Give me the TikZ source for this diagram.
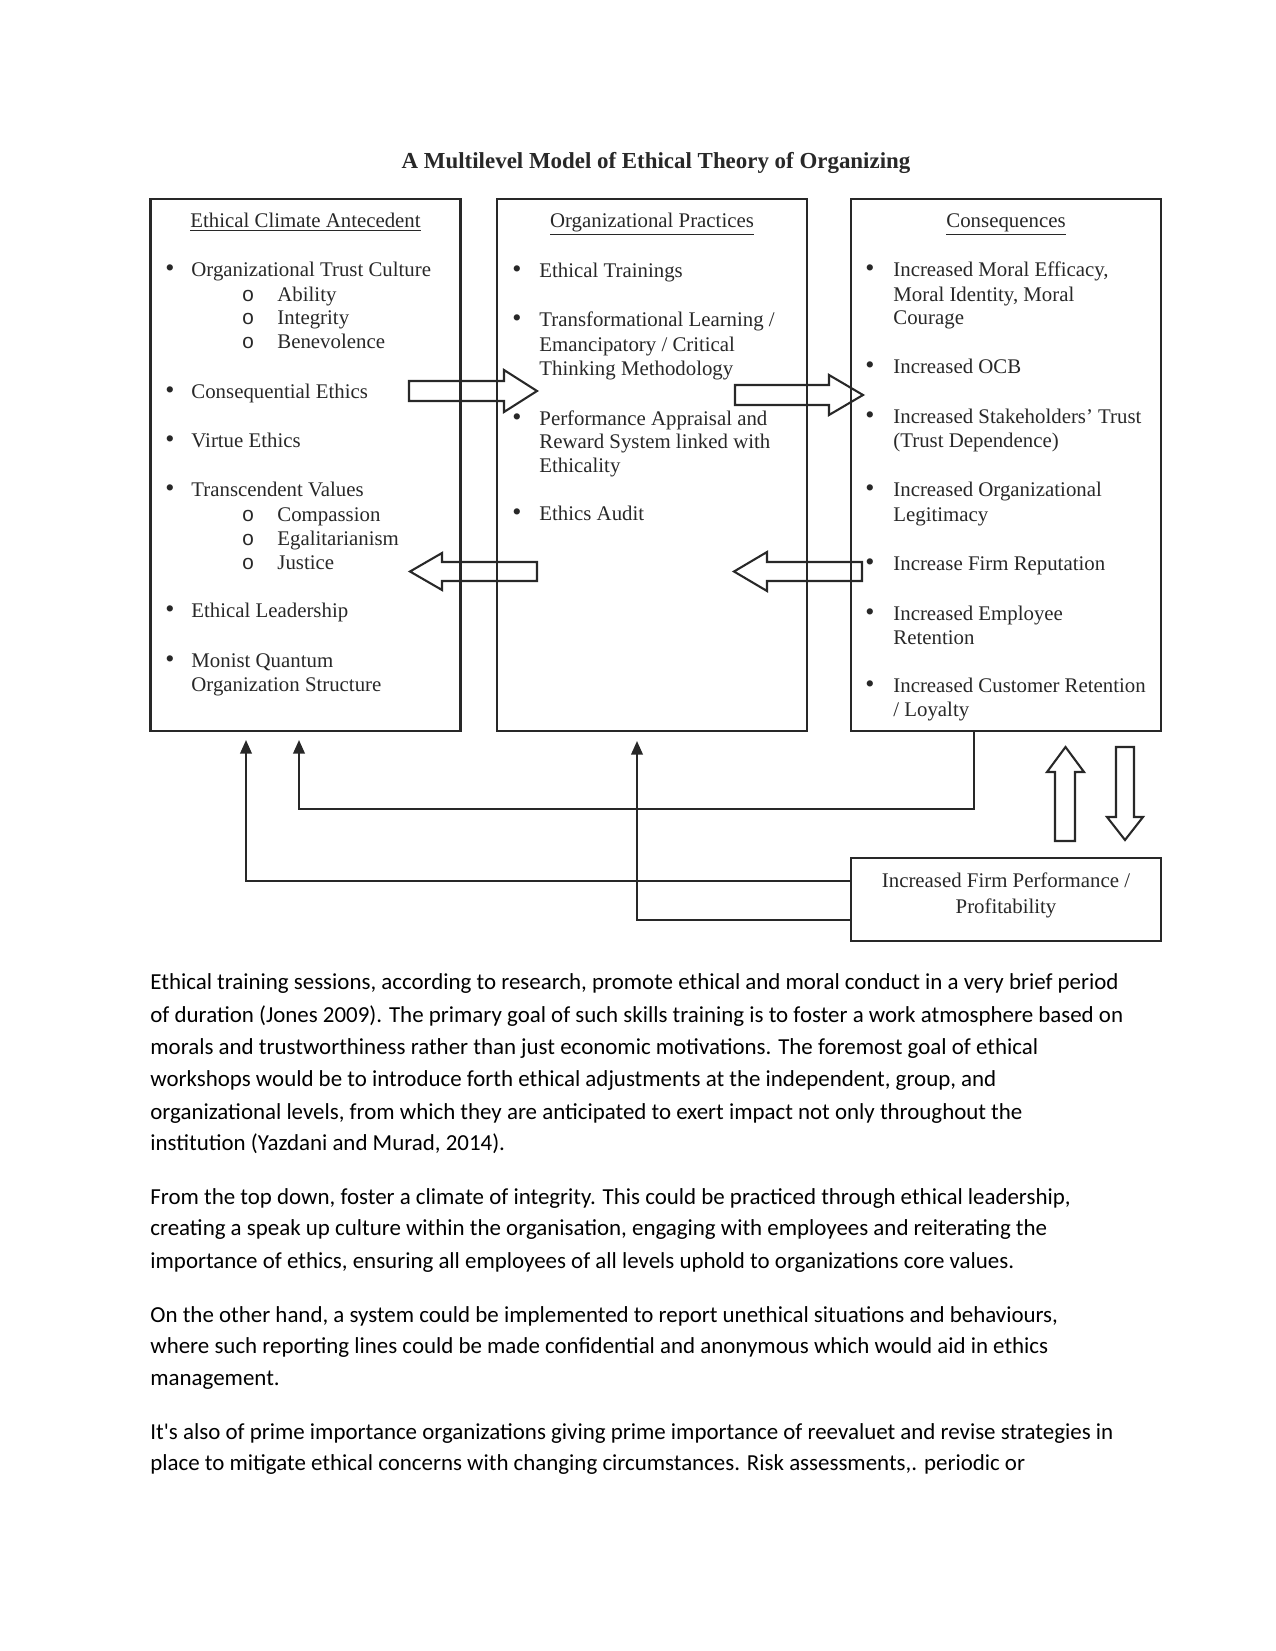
\documentclass[tikz,border=0pt]{standalone}
\usepackage{fontspec}
\setmainfont{Liberation Serif}
\newfontfamily\bodyfont{Carlito}
\newfontfamily\monofnt{Liberation Mono}
\usetikzlibrary{arrows.meta}
\definecolor{ink}{RGB}{40,40,40}
\newcommand\dl[4]{\node[#1] (#2) at (#3) {#4};}
\begin{document}
\begin{tikzpicture}[x=0.48pt,y=-0.48pt,
  box/.style={draw=ink,line width=1.2pt,inner sep=0pt,minimum width=148.8pt},
  dt/.style={anchor=base west,inner sep=0pt,text=ink,font=\fontsize{10}{12}\selectfont},
  bl/.style={anchor=base,inner sep=0pt,text=ink,font=\fontsize{12.5}{12}\selectfont},
  sb/.style={anchor=base,inner sep=0pt,text=ink,font=\monofnt\fontsize{10}{12}\selectfont},
  hd/.style={anchor=base,inner sep=0pt,text=ink,font=\fontsize{10}{12}\selectfont},
  bt/.style={anchor=base west,inner sep=0pt,text=black,font=\bodyfont\fontsize{11}{13}\selectfont},
  hollow/.style={draw=ink,line width=1pt,line join=miter},
  conn/.style={draw=ink,line width=1pt,-{Triangle[length=6.5pt,width=5.5pt]}}]
\useasboundingbox (0,0) rectangle (1275,1651);
\fill[white] (0,0) rectangle (1275,1651);

% title
\node[anchor=base,inner sep=0pt,text=ink,font=\bfseries\fontsize{11}{13}\selectfont] (title) at (656,169) {A Multilevel Model of Ethical Theory of Organizing};

% boxes
\node[box,minimum height=255.36pt] (b1) at (305.5,465) {};
\node[box,minimum height=255.36pt] (b2) at (652,465) {};
\node[box,minimum height=255.36pt] (b3) at (1006,465) {};
\node[box,minimum height=39.84pt] (b4) at (1006,899.5) {};

% hollow block arrows
\draw[hollow] (409,381) -- (504,381) -- (504,370) -- (537,391) -- (504,412) -- (504,401) -- (409,401) -- cycle;
\draw[hollow] (537,562) -- (442,562) -- (442,553) -- (410,571.5) -- (442,590) -- (442,581) -- (537,581) -- cycle;
\draw[hollow] (735,385) -- (829,385) -- (829,375) -- (863,395) -- (829,415) -- (829,405) -- (735,405) -- cycle;
\draw[hollow] (862,562) -- (767,562) -- (767,552) -- (734,571.5) -- (767,591) -- (767,581) -- (862,581) -- cycle;
\draw[hollow] (1055,841) -- (1055,772) -- (1047,772) -- (1065.5,747) -- (1084,772) -- (1075,772) -- (1075,841) -- cycle;
\draw[hollow] (1116,747) -- (1134,747) -- (1134,817) -- (1143,817) -- (1125,840) -- (1107,817) -- (1116,817) -- cycle;

% feedback connectors
\coordinate (a1) at (299,740);
\coordinate (a2) at (246,740);
\coordinate (a3) at (637,741);
\coordinate (k1) at (974,809);
\coordinate (h2) at (0,881);
\coordinate (h3) at (0,920);
\draw[conn] (b3.south -| k1) -- (k1) -| (a1);
\draw[conn] (b4.west |- h2) -| (a2);
\draw[conn] (b4.west |- h3) -| (a3);

\begin{scope}[yshift=-1pt]
% headings
\dl{hd}{hA}{305.5,225}{\underline{Ethical Climate Antecedent}}
\dl{hd}{hB}{652,225}{\underline{Organizational Practices}}
\dl{hd}{hC}{1006,225}{\underline{Consequences}}

% box 1
\dl{bl}{p1}{170,274}{•}
\dl{bl}{p2}{170,396}{•}
\dl{bl}{p3}{170,445}{•}
\dl{bl}{p4}{170,494}{•}
\dl{bl}{p5}{170,615.6}{•}
\dl{bl}{p6}{170,665}{•}
\dl{dt}{t1}{191,274}{Organizational Trust Culture}
\dl{dt}{t2}{191,396}{Consequential Ethics}
\dl{dt}{t3}{191,445}{Virtue Ethics}
\dl{dt}{t4}{191,494}{Transcendent Values}
\dl{dt}{t5}{191,615.6}{Ethical Leadership}
\dl{dt}{t6}{191,665}{Monist Quantum}
\dl{dt}{t7}{191,689}{Organization Structure}
\dl{sb}{o1}{248,299}{o}
\dl{sb}{o2}{248,322}{o}
\dl{sb}{o3}{248,346.5}{o}
\dl{sb}{o4}{248,519}{o}
\dl{sb}{o5}{248,543}{o}
\dl{sb}{o6}{248,567}{o}
\dl{dt}{s1}{277,299}{Ability}
\dl{dt}{s2}{277,322}{Integrity}
\dl{dt}{s3}{277,346.5}{Benevolence}
\dl{dt}{s4}{277,519}{Compassion}
\dl{dt}{s5}{277,543}{Egalitarianism}
\dl{dt}{s6}{277,567}{Justice}

% box 2
\dl{bl}{q1}{517,275}{•}
\dl{bl}{q2}{517,324}{•}
\dl{bl}{q3}{517,423}{•}
\dl{bl}{q4}{517,518}{•}
\dl{dt}{u1}{539,275}{Ethical Trainings}
\dl{dt}{u2}{539,324}{Transformational Learning /}
\dl{dt}{u3}{539,349}{Emancipatory / Critical}
\dl{dt}{u4}{539,373}{Thinking Methodology}
\dl{dt}{u5}{539,423}{Performance Appraisal and}
\dl{dt}{u6}{539,446}{Reward System linked with}
\dl{dt}{u7}{539,470}{Ethicality}
\dl{dt}{u8}{539,518}{Ethics Audit}

% box 3
\dl{bl}{r1}{870,274.5}{•}
\dl{bl}{r2}{870,371.5}{•}
\dl{bl}{r3}{870,421.5}{•}
\dl{bl}{r4}{870,494}{•}
\dl{bl}{r5}{870,568.5}{•}
\dl{bl}{r6}{870,618}{•}
\dl{bl}{r7}{870,690.5}{•}
\dl{dt}{v1}{893,274.5}{Increased Moral Efficacy,}
\dl{dt}{v2}{893,299}{Moral Identity, Moral}
\dl{dt}{v3}{893,322.5}{Courage}
\dl{dt}{v4}{893,371.5}{Increased OCB}
\dl{dt}{v5}{893,421.5}{Increased Stakeholders’ Trust}
\dl{dt}{v6}{893,445.5}{(Trust Dependence)}
\dl{dt}{v7}{893,494}{Increased Organizational}
\dl{dt}{v8}{893,519}{Legitimacy}
\dl{dt}{v9}{893,568.5}{Increase Firm Reputation}
\dl{dt}{v10}{893,618}{Increased Employee}
\dl{dt}{v11}{893,642}{Retention}
\dl{dt}{v12}{893,690.5}{Increased Customer Retention}
\dl{dt}{v13}{893,714.5}{/ Loyalty}

% box 4
\dl{hd}{w1}{1006,885}{Increased Firm Performance /}
\dl{hd}{w2}{1006,911.5}{Profitability}

% body text
\dl{bt}{x1}{150,987}{Ethical training sessions, according to research, promote ethical and moral conduct in a very brief period}
\dl{bt}{x2}{150,1020}{of duration (Jones 2009). The primary goal of such skills training is to foster a work atmosphere based on}
\dl{bt}{x3}{150,1052.5}{morals and trustworthiness rather than just economic motivations. The foremost goal of ethical}
\dl{bt}{x4}{150,1084}{workshops would be to introduce forth ethical adjustments at the independent, group, and}
\dl{bt}{x5}{150,1117}{organizational levels, from which they are anticipated to exert impact not only throughout the}
\dl{bt}{x6}{150,1148}{institution (Yazdani and Murad, 2014).}
\dl{bt}{y1}{150,1202}{From the top down, foster a climate of integrity. This could be practiced through ethical leadership,}
\dl{bt}{y2}{150,1233.6}{creating a speak up culture within the organisation, engaging with employees and reiterating the}
\dl{bt}{y3}{150,1266}{importance of ethics, ensuring all employees of all levels uphold to organizations core values.}
\dl{bt}{z1}{150,1320}{On the other hand, a system could be implemented to report unethical situations and behaviours,}
\dl{bt}{z2}{150,1351.5}{where such reporting lines could be made confidential and anonymous which would aid in ethics}
\dl{bt}{z3}{150,1383}{management.}
\dl{bt}{m1}{150,1437}{It's also of prime importance organizations giving prime importance of reevaluet and revise strategies in}
\dl{bt}{m2}{150,1468}{place to mitigate ethical concerns with changing circumstances. Risk assessments,. periodic or}
\end{scope}
\end{tikzpicture}
\end{document}
